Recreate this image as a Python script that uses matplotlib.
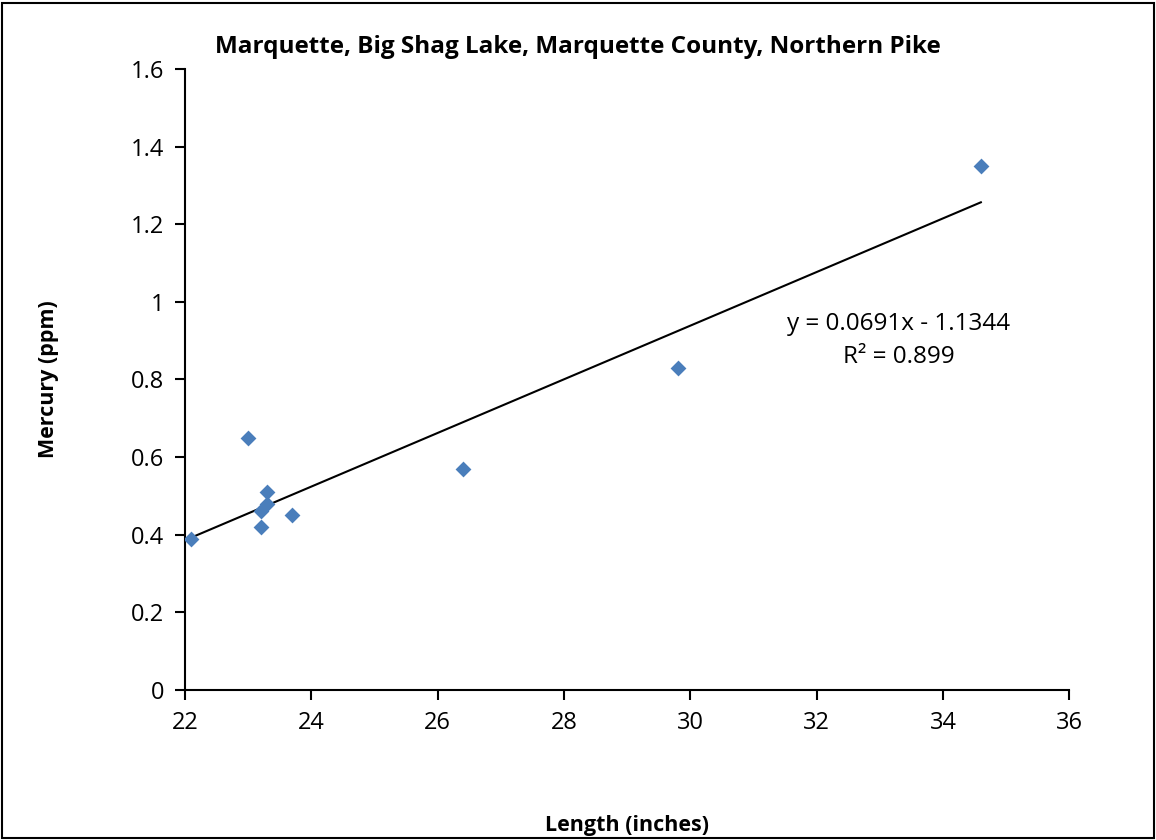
import matplotlib
matplotlib.use('Agg')
import matplotlib.pyplot as plt
import numpy as np

plt.rcParams['font.family'] = ['Open Sans', 'DejaVu Sans']

length = [22.1, 23.0, 23.2, 23.2, 23.3, 23.3, 23.7, 26.4, 29.8, 34.6]
mercury = [0.39, 0.65, 0.42, 0.46, 0.48, 0.51, 0.45, 0.57, 0.83, 1.35]

slope = 0.0691
intercept = -1.1344
r2 = 0.899

x = np.array(length)
y = np.array(mercury)

fig = plt.figure(figsize=(11.56, 8.4), dpi=100)
ax = fig.add_axes([0.160, 0.1786, 0.765, 0.7393])

ax.scatter(x, y, marker='D', s=65, color='#4a7ebb', zorder=3, linewidths=0)

# trendline over the range of the data
xl = np.array([x.min(), x.max()])
ax.plot(xl, slope * xl + intercept, color='black', lw=1.5, zorder=2)

ax.set_xlim(22, 36)
ax.set_ylim(0, 1.6)
ax.set_xticks(np.arange(22, 37, 2))
ax.set_yticks(np.arange(0, 1.61, 0.2))
ax.set_yticklabels(['0', '0.2', '0.4', '0.6', '0.8', '1', '1.2', '1.4', '1.6'])

for s in ['top', 'right']:
    ax.spines[s].set_visible(False)
for s in ['left', 'bottom']:
    ax.spines[s].set_linewidth(1.5)
ax.tick_params(direction='out', length=7, width=1.5, labelsize=17, pad=8)

fig.suptitle('Marquette, Big Shag Lake, Marquette County, Northern Pike',
             x=0.5, y=0.958, fontsize=17.5, fontweight='bold')
ax.set_xlabel('Length (inches)', fontsize=15.5, fontweight='bold', labelpad=58)
ax.set_ylabel('Mercury (ppm)', fontsize=15.5, fontweight='bold', labelpad=52)

ax.text(33.3, 0.975, 'y = 0.0691x - 1.1344\nR² = 0.899', ha='center', va='top',
        fontsize=17.5, linespacing=1.55)

fig.patches.append(plt.Rectangle((0.002, 0.002), 0.996, 0.995, transform=fig.transFigure,
                                 fill=False, edgecolor='black', lw=1.5))

fig.savefig('out.png', dpi=100)
